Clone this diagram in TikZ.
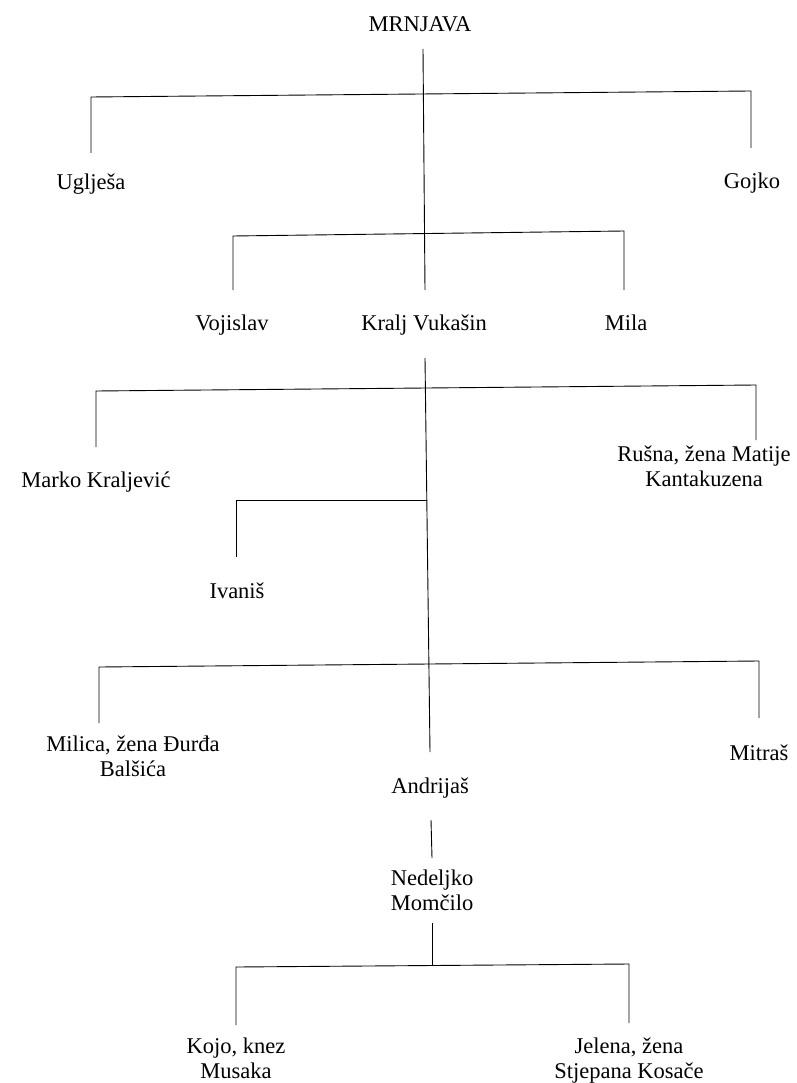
\documentclass[tikz,border=0pt]{standalone}
\usepackage{fontspec}
\setmainfont{Liberation Serif}
\begin{document}
\begin{tikzpicture}[x=1pt,y=-1pt,
  person/.style={font=\fontsize{22.5}{25}\selectfont, align=center, inner sep=0pt, anchor=base},
  link/.style={line width=0.9pt, black}]
\useasboundingbox[fill=white] (0,0) rectangle (796,1083);

% people (anchor = baseline of the last line)
\node[person] (mrn) at (420,32) {MRNJAVA};
\node[person] (ug) at (91,190) {Uglješa};
\node[person] (gojko) at (752,189) {Gojko};
\node[person] (voj) at (232,330) {Vojislav};
\node[person] (kralj) at (424,330) {Kralj Vukašin};
\node[person] (mila) at (626,330) {Mila};
\node[person] (marko) at (96,487) {Marko Kraljević};
\node[person] (rusna) at (704,486) {Rušna, žena Matije\\Kantakuzena};
\node[person] (ivanis) at (237,598) {Ivaniš};
\node[person] (milica) at (133,776) {Milica, žena Đurđa\\Balšića};
\node[person] (mitras) at (759,760) {Mitraš};
\node[person] (andrijas) at (430,793) {Andrijaš};
\node[person] (nedeljko) at (432,910) {Nedeljko\\Momčilo};
\node[person] (kojo) at (236,1078) {Kojo, knez\\Musaka};
\node[person] (jelena) at (629,1078) {Jelena, žena\\Stjepana Kosače};

% connector ends
\coordinate (mrn-out) at (423,49);
\coordinate (kralj-in) at (425,290);
\coordinate (ug-in) at (91,153);
\coordinate (ug-bar) at (91,97);
\coordinate (gojko-bar) at (751,91);
\coordinate (gojko-in) at (751,148);
\coordinate (voj-in) at (233,290);
\coordinate (voj-bar) at (233,236);
\coordinate (mila-bar) at (624,231);
\coordinate (mila-in) at (624,290);
\coordinate (kralj-out) at (425,358);
\coordinate (andrijas-in) at (430,752);
\coordinate (marko-in) at (96,447);
\coordinate (marko-bar) at (96,391);
\coordinate (rusna-bar) at (756,385);
\coordinate (rusna-in) at (756,440);
\coordinate (ivanis-join) at (427,500);
\coordinate (ivanis-bar) at (236,500);
\coordinate (ivanis-in) at (236,557);
\coordinate (milica-in) at (99,723);
\coordinate (milica-bar) at (99,667);
\coordinate (mitras-bar) at (759,661);
\coordinate (mitras-in) at (759,718);
\coordinate (andrijas-out) at (431,820);
\coordinate (nedeljko-in) at (432,858);
\coordinate (nedeljko-out) at (432,923);
\coordinate (nedeljko-join) at (432,965);
\coordinate (kojo-in) at (236,1025);
\coordinate (kojo-bar) at (236,967);
\coordinate (jelena-bar) at (629,964);
\coordinate (jelena-in) at (629,1023);

% connectors
\draw[link] (mrn-out) -- (kralj-in);
\draw[link] (ug-in) -- (ug-bar) -- (gojko-bar) -- (gojko-in);
\draw[link] (voj-in) -- (voj-bar) -- (mila-bar) -- (mila-in);
\draw[link] (kralj-out) -- (andrijas-in);
\draw[link] (marko-in) -- (marko-bar) -- (rusna-bar) -- (rusna-in);
\draw[link] (ivanis-join) -- (ivanis-bar) -- (ivanis-in);
\draw[link] (milica-in) -- (milica-bar) -- (mitras-bar) -- (mitras-in);
\draw[link] (andrijas-out) -- (nedeljko-in);
\draw[link] (nedeljko-out) -- (nedeljko-join);
\draw[link] (kojo-in) -- (kojo-bar) -- (jelena-bar) -- (jelena-in);
\end{tikzpicture}
\end{document}
